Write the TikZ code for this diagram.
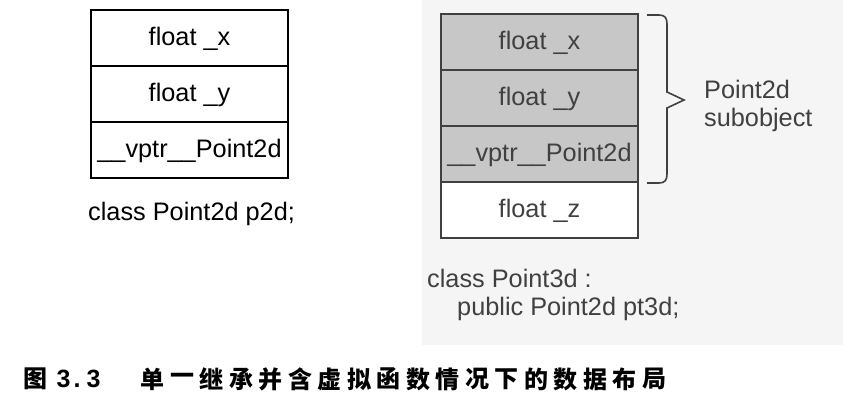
\documentclass[tikz,border=0pt]{standalone}
\usepackage{fontspec}
\setmainfont{Liberation Sans}
\newfontfamily\cjk{Noto Sans CJK SC}
\begin{document}
\begin{tikzpicture}[x=1pt,y=-1pt,
  txt/.style={font=\fontsize{25.3}{28}\selectfont, inner sep=0pt},
  cellL/.style={txt, draw=black, line width=2.4pt, minimum width=197pt, minimum height=56pt, text height=17.5pt, text depth=2pt},
  cellR/.style={txt, draw=black!75, line width=1.8pt, minimum width=197pt, minimum height=56pt, text height=17.5pt, text depth=3pt, text=black!75},
  shaded/.style={fill=black!22},
  plain/.style={fill=white},
  lbl/.style={txt, anchor=base west},
  lblR/.style={lbl, text=black!75},
  brace/.style={draw=black!75, line width=1.6pt, line join=miter},
  capc/.style={font=\cjk\bfseries\fontsize{24}{28}\selectfont, inner sep=0pt},
  capd/.style={font=\bfseries\fontsize{25}{28}\selectfont, inner sep=0pt, anchor=base}
]
\useasboundingbox (0,0) rectangle (843,407);
% light panel behind the right figure
\fill[black!4] (422,0) rectangle (843,345);

% left object
\node[cellL] (l1) at (189.5,38) {float \_x};
\node[cellL] (l2) at (189.5,94) {float \_y};
\node[cellL] (l3) at (189.5,150) {\_\_vptr\_\_Point2d};
\node[lbl] (l4) at (88,220) {class Point2d p2d;};

% right object
\node[cellR,shaded] (r1) at (539.5,42) {float \_x};
\node[cellR,shaded] (r2) at (539.5,98) {float \_y};
\node[cellR,shaded] (r3) at (539.5,154) {\_\_vptr\_\_Point2d};
\node[cellR,plain] (r4) at (539.5,210) {float \_z};
\node[lblR] (r5) at (427,287) {class Point3d :};
\node[lblR] (r6) at (457,315) {public Point2d pt3d;};

% brace
\coordinate (bt) at (647,15);
\coordinate (bb) at (647,183);
\coordinate (tip) at (684,100);
\draw[brace] (bt) -- (659,15) .. controls (665,15) and (667,18) .. (667,24)
  -- (667,92) -- (tip) -- (667,108) -- (667,174)
  .. controls (667,180) and (665,183) .. (659,183) -- (bb);
\node[lblR] (s1) at (704,98) {Point2d};
\node[lblR] (s2) at (704,126) {subobject};

% caption
\node[capc] (c0) at (35.5,379) {图};
\node[capd] (d1) at (63.5,387) {3};
\node[capd] (d2) at (77,387) {.};
\node[capd] (d3) at (93.5,387) {3};
\foreach \ch [count=\i from 0] in {单,一,继,承,并,含,虚,拟,函,数,情,况,下,的,数,据,布,局}{
  \node[capc] (cap\i) at ({152.5+29.5*\i},379) {\ch};
}
\end{tikzpicture}
\end{document}
